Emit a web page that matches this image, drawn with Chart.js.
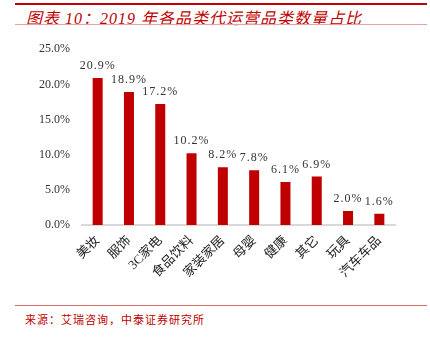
<!DOCTYPE html>
<html>
<head>
<meta charset="utf-8">
<script src="https://cdn.jsdelivr.net/npm/chart.js@4/dist/chart.umd.min.js"></script>
<style>
  html, body { margin: 0; padding: 0; background: #fff; }
  body { width: 430px; height: 338px; position: relative; overflow: hidden; }
  .rule-top { position: absolute; left: 15px; top: 3px; width: 412px; height: 2px; background: #c00000; }
  .title { position: absolute; left: 26px; top: 5px; font-family: "Liberation Serif", "Noto Sans CJK SC", serif;
           font-style: italic; font-size: 16px; color: #c00000; white-space: nowrap; letter-spacing: 1px; }
  .rule-title { position: absolute; left: 15px; top: 24px; width: 412px; height: 1px; background: #e8a0a0; }
  .rule-bottom { position: absolute; left: 15px; top: 305px; width: 412px; height: 1px; background: #d86a6a; }
  .source { position: absolute; left: 25px; top: 311px; font-family: "Noto Sans CJK SC", serif; font-size: 11px; color: #c00000; white-space: nowrap; letter-spacing: 1px; }
  #wrap { position: absolute; left: 0; top: 30px; width: 430px; height: 275px; }
</style>
</head>
<body>
<div class="rule-top"></div>
<div class="title">图表 10：2019 年各品类代运营品类数量占比</div>
<div class="rule-title"></div>
<div id="wrap"><canvas id="c"></canvas></div>
<div class="rule-bottom"></div>
<div class="source">来源：艾瑞咨询，中泰证券研究所</div>
<script>
const categories = ["美妆", "服饰", "3C家电", "食品饮料", "家装家居", "母婴", "健康", "其它", "玩具", "汽车车品"];
const shares = [20.9, 18.9, 17.2, 10.2, 8.2, 7.8, 6.1, 6.9, 2.0, 1.6];
const yTicks = [0, 5, 10, 15, 20, 25];

const serif = '"Liberation Serif", "Noto Sans CJK SC", serif';

// value labels above each bar
const valueLabels = {
  id: 'valueLabels',
  afterDatasetsDraw(chart) {
    const ctx = chart.ctx;
    const meta = chart.getDatasetMeta(0);
    ctx.save();
    ctx.font = '12px ' + serif;
    ctx.letterSpacing = '1px';
    ctx.fillStyle = '#333';
    ctx.textAlign = 'center';
    ctx.textBaseline = 'bottom';
    meta.data.forEach((bar, i) => {
      ctx.fillText(shares[i].toFixed(1) + '%', bar.x, bar.y - 6);
    });
    ctx.restore();
  }
};

new Chart(document.getElementById('c'), {
  type: 'bar',
  data: {
    labels: categories,
    datasets: [{
      data: shares,
      backgroundColor: '#c00000',
      barPercentage: 0.64,
      categoryPercentage: 0.5
    }]
  },
  options: {
    responsive: true,
    maintainAspectRatio: false,
    animation: false,
    layout: { padding: { left: 0, right: 35, top: 19, bottom: 0 } },
    plugins: { legend: { display: false }, tooltip: { enabled: false } },
    scales: {
      x: {
        grid: { display: false, drawTicks: false },
        border: { display: true, color: '#d9d9d9', width: 2 },
        ticks: {
          color: '#222',
          font: { family: serif, size: 13 },
          maxRotation: 45, minRotation: 45,
          padding: 8
        },
        afterFit(scale) { scale.height = 80; }
      },
      y: {
        min: 0, max: 25,
        grid: { display: false, drawTicks: false },
        border: { display: false },
        afterBuildTicks(scale) { scale.ticks = yTicks.map(v => ({ value: v })); },
        ticks: {
          color: '#333',
          font: { family: serif, size: 12 },
          padding: 12,
          callback: v => v.toFixed(1) + '%'
        },
        afterFit(scale) { scale.width = 82; }
      }
    }
  },
  plugins: [valueLabels]
});
</script>
</body>
</html>
